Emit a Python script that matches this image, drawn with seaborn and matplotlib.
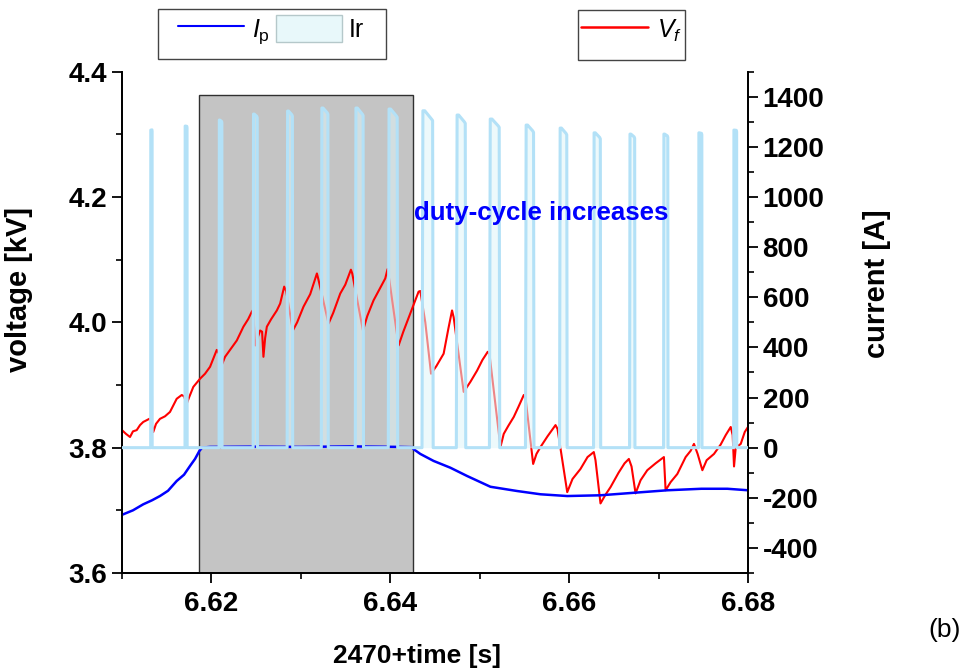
import numpy as np
import pandas as pd
import matplotlib
matplotlib.use("Agg")
import matplotlib.pyplot as plt
import seaborn as sns
from matplotlib.patches import Rectangle, Patch
from matplotlib.lines import Line2D
from matplotlib.ticker import MultipleLocator, FormatStrFormatter

sns.set_theme(style="ticks")
plt.rcParams['font.family'] = ['Liberation Sans', 'DejaVu Sans']
plt.rcParams['mathtext.fontset'] = 'custom'
plt.rcParams['mathtext.rm'] = 'Liberation Sans'
plt.rcParams['mathtext.it'] = 'Liberation Sans:italic'
plt.rcParams['axes.unicode_minus'] = False
plt.rcParams['text.color'] = 'black'
plt.rcParams['axes.labelcolor'] = 'black'
plt.rcParams['xtick.color'] = 'black'
plt.rcParams['ytick.color'] = 'black'

# ---------------- data ----------------
T0 = 6.61  # s, time origin of the ms offsets below

# floating-potential voltage V_f [kV]
vf_ms = [0.00, 0.45, 0.90, 1.23, 1.65, 2.02, 2.38, 3.06, 3.25, 3.50, 3.81, 4.25, 4.81,
         5.37, 6.12, 6.68, 6.94, 7.24, 7.50, 7.98, 8.73, 9.29, 9.85, 10.60, 10.86, 11.16,
         11.53, 12.09, 12.84, 13.58, 14.11, 14.52, 14.67, 14.89, 15.23, 15.45, 15.67, 15.82,
         16.01, 16.20, 16.68, 17.32, 17.69, 18.14, 18.36, 19.11, 19.59, 20.30, 21.05, 21.80,
         21.94, 23.10, 23.62, 24.41, 24.97, 25.60, 25.75, 26.95, 27.43, 28.13, 28.88, 29.44,
         29.70, 29.89, 30.93, 31.46, 32.24, 32.80, 33.17, 33.36, 33.92, 34.56, 35.15, 35.97,
         36.50, 36.91, 37.09, 38.21, 38.96, 39.71, 40.31, 40.90, 41.09, 42.32, 42.69, 43.21,
         43.81, 44.33, 44.93, 45.12, 45.98, 46.35, 46.80, 47.58, 48.48, 48.70, 49.79, 50.38,
         51.27, 52.06, 52.76, 52.95, 53.51, 54.07, 54.63, 55.53, 56.20, 56.68, 56.98, 57.43,
         57.99, 58.74, 59.67, 60.60, 60.79, 61.35, 62.10, 63.03, 63.59, 63.96, 64.37, 64.90,
         65.38, 66.20, 66.95, 67.51, 68.07, 68.29, 68.44, 68.63, 69.19, 69.64, 70.00]
vf_kv = [3.828, 3.822, 3.817, 3.826, 3.828, 3.836, 3.841, 3.846, 3.844, 3.825, 3.838, 3.846, 3.850,
         3.857, 3.878, 3.884, 3.882, 3.870, 3.880, 3.897, 3.910, 3.918, 3.929, 3.956, 3.950, 3.932,
         3.945, 3.956, 3.971, 3.993, 4.005, 4.017, 4.020, 3.963, 3.978, 3.987, 3.985, 3.945,
         3.975, 3.993, 4.005, 4.019, 4.030, 4.057, 4.050, 3.987, 4.000, 4.025, 4.045, 4.078,
         4.070, 3.998, 4.015, 4.046, 4.060, 4.084, 4.078, 3.987, 4.010, 4.035, 4.055, 4.070,
         4.085, 4.068, 3.963, 3.985, 4.014, 4.035, 4.049, 4.050, 4.000, 3.918, 3.930, 3.950,
         3.990, 4.019, 4.008, 3.889, 3.905, 3.923, 3.940, 3.953, 3.950, 3.801, 3.822, 3.835,
         3.849, 3.865, 3.884, 3.880, 3.774, 3.790, 3.801, 3.818, 3.836, 3.830, 3.729, 3.750,
         3.766, 3.785, 3.793, 3.780, 3.711, 3.725, 3.737, 3.760, 3.775, 3.782, 3.770, 3.727,
         3.748, 3.764, 3.775, 3.785, 3.732, 3.745, 3.758, 3.785, 3.795, 3.806, 3.790, 3.764,
         3.780, 3.790, 3.805, 3.820, 3.833, 3.820, 3.770, 3.800, 3.806, 3.825, 3.833]

# plasma current I_p [A]
ip_ms = [0.00, 1.23, 2.38, 3.36, 4.25, 5.15, 6.12, 6.94, 7.61, 8.17, 8.66, 8.96, 9.85, 14.33,
         19.93, 25.52, 31.12, 32.46, 32.61, 33.36, 34.85, 36.72, 38.59, 41.20, 44.19, 46.80,
         49.79, 53.51, 57.24, 60.98, 64.79, 67.70, 70.00]
ip_a = [-268, -250, -226, -210, -193, -172, -133, -108, -73, -45, -13, 0, 3, 4,
        3, 5, 3, 2, -6, -25, -53, -80, -113, -156, -173, -186,
        -193, -190, -180, -170, -164, -164, -170]

# Ir pulses
pulse_start_ms = [3.21, 7.05, 10.86, 14.67, 18.47, 22.29, 26.09, 29.78, 33.55,
                  37.39, 41.09, 45.12, 48.93, 52.73, 56.76, 60.56, 64.48, 68.40]
pulse_width_ms = [0.17, 0.24, 0.33, 0.48, 0.62, 0.78, 0.92, 1.05, 1.25,
                  1.05, 1.15, 0.95, 0.85, 0.80, 0.60, 0.50, 0.38, 0.35]
pulse_peak_a = [1267, 1283, 1307, 1331, 1343, 1355, 1355, 1351, 1344,
                1327, 1311, 1287, 1275, 1256, 1251, 1251, 1256, 1267]
pulse_end_a = [1262, 1276, 1296, 1316, 1322, 1330, 1325, 1318, 1305,
               1294, 1278, 1258, 1248, 1232, 1234, 1238, 1248, 1260]

# shaded interval (gray box) in ms and its top in kV
box_ms = [8.66, 32.54]
box_top_kv = 4.363

# ---------------- build frames ----------------
df_vf = pd.DataFrame({"time": T0 + np.array(vf_ms) / 1000.0, "Vf": vf_kv})
df_ip = pd.DataFrame({"time": T0 + np.array(ip_ms) / 1000.0, "Ip": ip_a})

ir_t = [0.0]
ir_a = [0.0]
for s, w, p, e in zip(pulse_start_ms, pulse_width_ms, pulse_peak_a, pulse_end_a):
    ir_t += [s, s + 0.08 * w, s + 0.25 * w, s + 0.85 * w, s + 0.95 * w, s + w]
    ir_a += [0.0, p, p, e + 6, e, 0.0]
ir_t.append(70.0)
ir_a.append(0.0)
df_ir = pd.DataFrame({"time": T0 + np.array(ir_t) / 1000.0, "Ir": ir_a})

# ---------------- figure ----------------
W, H = 978, 670
fig = plt.figure(figsize=(W / 100, H / 100), dpi=100)
ax = fig.add_axes([0.1247, 0.1448, 0.6401, 0.7482])
ax2 = ax.twinx()

ax.add_patch(Rectangle((T0 + box_ms[0] / 1000.0, 3.6), (box_ms[1] - box_ms[0]) / 1000.0,
                       box_top_kv - 3.6, facecolor="#c4c4c4", edgecolor="#303030",
                       linewidth=1.0, zorder=1))
sns.lineplot(data=df_vf, x="time", y="Vf", ax=ax, color="#ff0000", linewidth=1.5,
             sort=False, estimator=None, legend=False, zorder=3)

ax2.fill_between(df_ir["time"], 0, df_ir["Ir"], color="#dff5f8", alpha=0.55,
                 linewidth=0, zorder=2)
sns.lineplot(data=df_ir, x="time", y="Ir", ax=ax2, color="#b3e1f7", linewidth=2.2,
             sort=False, estimator=None, legend=False, zorder=3)
sns.lineplot(data=df_ip, x="time", y="Ip", ax=ax2, color="#0000ff", linewidth=1.8,
             sort=False, estimator=None, legend=False, zorder=2.5)

ax.set_xlim(6.61, 6.68)
ax.set_ylim(3.6, 4.4)
ax2.set_ylim(-500, 1500)

ax.xaxis.set_major_locator(MultipleLocator(0.02))
ax.xaxis.set_minor_locator(MultipleLocator(0.01))
ax.xaxis.set_major_formatter(FormatStrFormatter("%.2f"))
ax.yaxis.set_major_locator(MultipleLocator(0.2))
ax.yaxis.set_minor_locator(MultipleLocator(0.1))
ax.yaxis.set_major_formatter(FormatStrFormatter("%.1f"))
ax2.yaxis.set_major_locator(MultipleLocator(200))
ax2.yaxis.set_minor_locator(MultipleLocator(100))

for a in (ax, ax2):
    a.spines["top"].set_visible(False)
    for sp in a.spines.values():
        sp.set_color("black")
        sp.set_linewidth(1.3)
    a.tick_params(which="major", direction="out", length=7, width=1.3, color="black",
                  labelsize=20, labelcolor="black")
    a.tick_params(which="minor", direction="out", length=4, width=1.2, color="black")
ax.tick_params(axis="x", which="both", top=False, pad=6)
ax.tick_params(axis="y", which="both", right=False)
ax2.tick_params(axis="y", which="both", left=False, right=True)
for lab in ax.get_xticklabels() + ax.get_yticklabels() + ax2.get_yticklabels():
    lab.set_fontweight("bold")

ax.set_xlabel("2470+time [s]", fontsize=19, fontweight="bold")
ax.set_ylabel("voltage [kV]", fontsize=21, fontweight="bold")
ax2.set_ylabel("current [A]", fontsize=21, fontweight="bold")
ax.xaxis.set_label_coords(0.471, -0.142)
ax.yaxis.set_label_coords(-0.142, 0.565)
ax2.yaxis.set_label_coords(1.184, 0.578)

ax2.text(6.6427, 4.174, "duty-cycle increases", color="#0000ff", fontsize=18.6,
         fontweight="bold", ha="left", va="center", zorder=10, transform=ax.transData)

fig.text(945 / W, 1 - 630 / H, "(b)", fontsize=19, ha="center", va="center")

# legend frames (figure pixels: left, top, right, bottom)
for (l, t, r, b) in [(158, 9, 386, 59), (578, 10, 685, 60)]:
    fig.patches.append(Rectangle((l / W, 1 - b / H), (r - l) / W, (b - t) / H,
                                 transform=fig.transFigure, fill=False,
                                 edgecolor="#444444", linewidth=1.0))

leg1 = fig.legend(handles=[Line2D([], [], color="#0000ff", linewidth=1.5),
                           Patch(facecolor="#e8f8fa", edgecolor="#b5c8ca")],
                  labels=[r"$I_{\mathrm{p}}$", "Ir"], ncol=2, loc="upper left",
                  bbox_to_anchor=(178 / W, 1 - 15 / H), frameon=False,
                  fontsize=18, handlelength=2.64, handleheight=1.3, columnspacing=0.25,
                  handletextpad=0.3, borderpad=0, borderaxespad=0)
leg2 = fig.legend(handles=[Line2D([], [], color="#ff0000", linewidth=1.8)],
                  labels=[r"$V_f$"], loc="upper left",
                  bbox_to_anchor=(581 / W, 1 - 16 / H), frameon=False,
                  fontsize=18, handlelength=2.68, handleheight=1.3,
                  handletextpad=0.36, borderpad=0, borderaxespad=0)

fig.savefig("out.png", dpi=100)
